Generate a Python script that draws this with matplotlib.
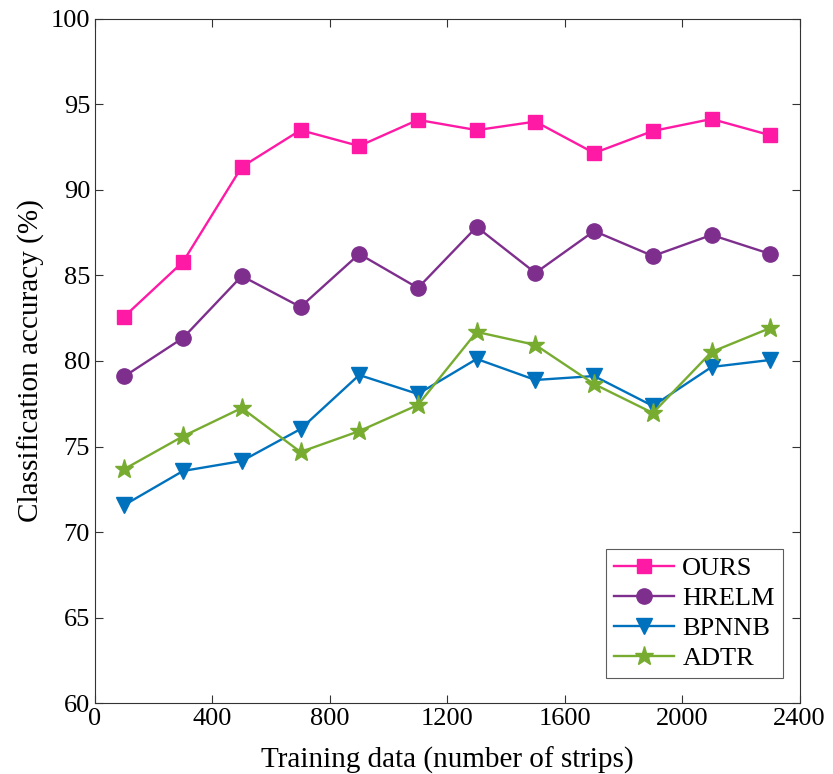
import numpy as np
import matplotlib.pyplot as plt

plt.rcParams['font.family'] = ['Liberation Serif', 'DejaVu Serif']

# ─── Data ─────────────────────────────────────────────────────────────
train_sizes = [100, 300, 500, 700, 900, 1100, 1300, 1500, 1700, 1900, 2100, 2300]
acc_ours = [82.6, 85.8, 91.35, 93.5, 92.57, 94.1, 93.5, 94.0, 92.16, 93.45, 94.15, 93.2]
acc_hrelm = [79.1, 81.35, 84.97, 83.16, 86.26, 84.27, 87.84, 85.15, 87.6, 86.14, 87.37, 86.26]
acc_bpnnb = [71.58, 73.57, 74.15, 76.02, 79.18, 78.07, 80.12, 78.89, 79.12, 77.37, 79.65, 80.06]
acc_adtr = [73.68, 75.6, 77.25, 74.68, 75.9, 77.43, 81.7, 80.94, 78.65, 76.96, 80.53, 81.93]

# ─── Plot ─────────────────────────────────────────────────────────────
fig = plt.figure(figsize=(8.33, 7.74), dpi=100)
ax = fig.add_axes([0.114, 0.0917, 0.846, 0.8838])

ax.plot(train_sizes, acc_ours, color='#FF1AA6', marker='s', ms=9.5, lw=1.7, label='OURS')
ax.plot(train_sizes, acc_hrelm, color='#7E2F8E', marker='o', ms=11, lw=1.7, label='HRELM')
ax.plot(train_sizes, acc_bpnnb, color='#0072BD', marker='v', ms=12, lw=1.7, label='BPNNB')
ax.plot(train_sizes, acc_adtr, color='#77AC30', marker='*', ms=14, lw=1.7, label='ADTR')

ax.set_xlim(0, 2400)
ax.set_ylim(60, 100)
ax.set_xticks(np.arange(0, 2401, 400))
ax.set_yticks(np.arange(60, 101, 5))
ax.tick_params(direction='in', top=True, right=True, labelsize=19, length=6, color='#333333')
for s in ax.spines.values():
    s.set_color('#333333')
    s.set_linewidth(0.8)

ax.set_xlabel('Training data (number of strips)', fontsize=21, labelpad=12)
ax.set_ylabel('Classification accuracy (%)', fontsize=21, labelpad=4)

leg = ax.legend(loc='lower right', fontsize=19, handlelength=2.3, handletextpad=0.3,
                borderpad=0.3, labelspacing=0.25, fancybox=False, edgecolor='#333333',
                bbox_to_anchor=(0.976, 0.036), borderaxespad=0)
leg.get_frame().set_linewidth(0.8)

plt.savefig('out.png', dpi=100)
